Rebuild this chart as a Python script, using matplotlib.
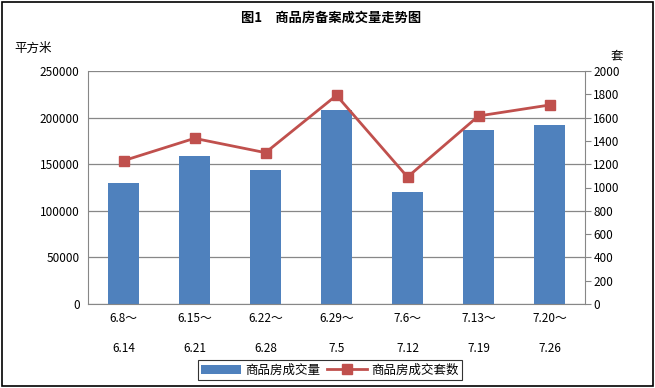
import matplotlib.pyplot as plt
import numpy as np

plt.rcParams['font.family'] = ['Noto Sans CJK SC', 'DejaVu Sans']

# Data
weeks = ['6.8～\n\n6.14', '6.15～\n\n6.21', '6.22～\n\n6.28', '6.29～\n\n7.5',
         '7.6～\n\n7.12', '7.13～\n\n7.19', '7.20～\n\n7.26']
area = [130000, 159000, 144000, 208000, 120000, 187000, 192000]
units = [1230, 1422, 1299, 1791, 1090, 1614, 1708]

bar_color = '#4f81bd'
line_color = '#c0504d'

fig = plt.figure(figsize=(6.55, 3.88), dpi=100)
ax = fig.add_axes([88/655, 1 - 304/388, 497/655, 233/388])
x = np.arange(len(weeks))

ax.bar(x, area, width=0.44, color=bar_color, label='商品房成交量', zorder=2)
ax.set_ylim(0, 250000)
ax.set_yticks(np.arange(0, 250001, 50000))
ax.set_xlim(-0.5, len(weeks) - 0.5)
ax.set_xticks(x)
ax.set_xticklabels(weeks, fontsize=8.5)
ax.tick_params(axis='x', length=0, pad=6)
ax.tick_params(axis='y', length=0, labelsize=8.5, pad=6)
ax.grid(axis='y', color='#878787', linewidth=0.9, zorder=0)
for s in ['top', 'right']:
    ax.spines[s].set_visible(False)
ax.spines['left'].set_color('#878787')
ax.spines['bottom'].set_color('#878787')

ax2 = ax.twinx()
ax2.plot(x, units, color=line_color, marker='s', markersize=6.5, linewidth=2,
         label='商品房成交套数', zorder=3)
ax2.set_ylim(0, 2000)
ax2.set_yticks(np.arange(0, 2001, 200))
ax2.tick_params(axis='y', labelsize=8.5, length=4, color='#878787', pad=2)
for s in ['top', 'left', 'bottom']:
    ax2.spines[s].set_visible(False)
ax2.spines['right'].set_color('#878787')

fig.text(0.505, 1 - 18/388, '图1　商品房备案成交量走势图', ha='center', va='center',
         fontsize=9.5, fontweight='bold')
fig.text(14/655, 1 - 48/388, '平方米', ha='left', va='center', fontsize=9)
fig.text(617/655, 1 - 56/388, '套', ha='center', va='center', fontsize=9)

h1, l1 = ax.get_legend_handles_labels()
h2, l2 = ax2.get_legend_handles_labels()
leg = fig.legend(h1 + h2, l1 + l2, loc='center', bbox_to_anchor=(330/655, 1 - 370/388),
                 ncol=2, fontsize=9, frameon=True, fancybox=False, edgecolor='black',
                 handlelength=3.2, handletextpad=0.3, columnspacing=0.6,
                 borderpad=0.25)
leg.get_frame().set_linewidth(0.8)

fig.patches.append(plt.Rectangle((0.003, 0.004), 0.994, 0.99, transform=fig.transFigure,
                                 fill=False, edgecolor='black', linewidth=1.2))

plt.savefig('out.png', dpi=100)
